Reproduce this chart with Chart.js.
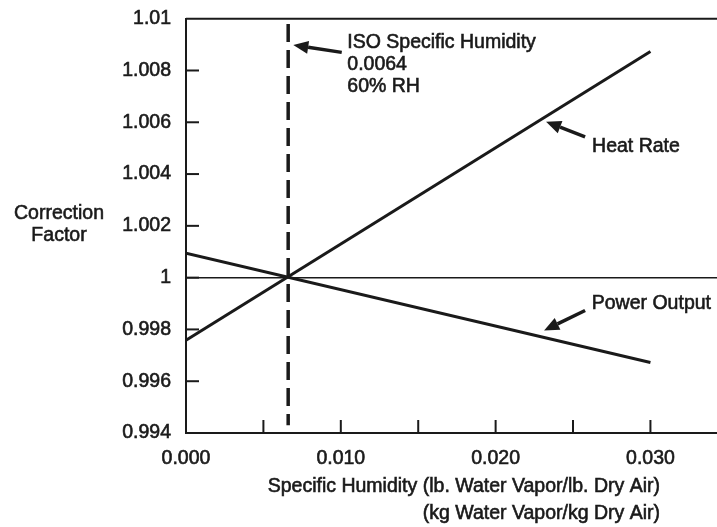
<!DOCTYPE html>
<html>
<head>
<meta charset="utf-8">
<style>
html, body { margin: 0; padding: 0; background: #fff; }
#wrap { width: 717px; height: 527px; position: relative; }
</style>
<script src="https://cdn.jsdelivr.net/npm/chart.js@4.4.1/dist/chart.umd.min.js"></script>
</head>
<body>
<div id="wrap"><canvas id="chart" width="717" height="527"></canvas></div>
<script>
// data
const humidity = [0.000, 0.030];
const heatRate = [0.99758, 1.00873];
const powerOutput = [1.00094, 0.99672];
const isoHumidity = [0.0066, 0.0066];
const isoSpan = [1.0098, 0.9943];
const baselineX = [0, 0.0343];
const baselineY = [1, 1];

const xTicks = [0, 0.005, 0.010, 0.015, 0.020, 0.025, 0.030];
const xTickLabels = ['0.000', '', '0.010', '', '0.020', '', '0.030'];
const yTicks = [0.994, 0.996, 0.998, 1.000, 1.002, 1.004, 1.006, 1.008, 1.010];
const yTickLabels = ['0.994', '0.996', '0.998', '1', '1.002', '1.004', '1.006', '1.008', '1.01'];

const xTitle = ['Specific Humidity (lb. Water Vapor/lb. Dry Air)', '(kg Water Vapor/kg Dry Air)'];
const yTitle = ['Correction', 'Factor'];

// callouts, anchored in data units
const callouts = [
    { lines: ['ISO Specific Humidity', '0.0064', '60% RH'], text: [0.01042, 1.00906], tail: [0.01006, 1.00870], tip: [0.00693, 1.00898] },
    { lines: ['Heat Rate'], text: [0.02623, 1.00506], tail: [0.02578, 1.00544], tip: [0.02326, 1.00602] },
    { lines: ['Power Output'], text: [0.02621, 0.99900], tail: [0.02578, 0.99873], tip: [0.02313, 0.99796] }
];

const INK = '#1a1a1a';
const FONT = "'Liberation Sans', Arial, sans-serif";
const FS = 19.5;
const STROKE = 0.6;

const pts = (xs, ys) => xs.map((x, i) => ({ x: x, y: ys[i] }));

function boldText(ctx, s, x, y) {
    ctx.fillText(s, x, y);
    ctx.strokeText(s, x, y);
}

const decorPlugin = {
    id: 'decor',
    afterDraw(chart) {
        const { ctx, chartArea: ca, scales: { x, y } } = chart;
        ctx.save();
        ctx.strokeStyle = INK;
        ctx.fillStyle = INK;

        // top frame line
        ctx.lineWidth = 2;
        ctx.beginPath();
        ctx.moveTo(ca.left, ca.top);
        ctx.lineTo(ca.right, ca.top);
        ctx.stroke();

        // inward tick marks
        xTicks.slice(1).forEach(v => {
            const px = x.getPixelForValue(v);
            ctx.beginPath();
            ctx.moveTo(px, ca.bottom);
            ctx.lineTo(px, ca.bottom - 13);
            ctx.stroke();
        });
        yTicks.slice(1, -1).forEach(v => {
            const py = y.getPixelForValue(v);
            ctx.beginPath();
            ctx.moveTo(ca.left, py);
            ctx.lineTo(ca.left + 13, py);
            ctx.stroke();
        });

        // callouts
        ctx.font = FS + 'px ' + FONT;
        ctx.textBaseline = 'middle';
        ctx.textAlign = 'left';
        callouts.forEach(c => {
            const tx = x.getPixelForValue(c.text[0]);
            const ty = y.getPixelForValue(c.text[1]);
            ctx.lineWidth = STROKE;
            c.lines.forEach((l, i) => boldText(ctx, l, tx, ty + i * 21.7));

            const ax = x.getPixelForValue(c.tail[0]), ay = y.getPixelForValue(c.tail[1]);
            const bx = x.getPixelForValue(c.tip[0]), by = y.getPixelForValue(c.tip[1]);
            const ang = Math.atan2(by - ay, bx - ax);
            const headLen = 15, headW = 6.5;
            const hx = bx - headLen * Math.cos(ang), hy = by - headLen * Math.sin(ang);
            ctx.lineWidth = 3.5;
            ctx.beginPath();
            ctx.moveTo(ax, ay);
            ctx.lineTo(hx, hy);
            ctx.stroke();
            ctx.beginPath();
            ctx.moveTo(bx, by);
            ctx.lineTo(hx + headW * Math.sin(ang), hy - headW * Math.cos(ang));
            ctx.lineTo(hx - headW * Math.sin(ang), hy + headW * Math.cos(ang));
            ctx.closePath();
            ctx.fill();
        });

        // axis titles
        ctx.lineWidth = STROKE;
        ctx.textAlign = 'center';
        yTitle.forEach((l, i) => boldText(ctx, l, 59, 214 + i * 22));
        ctx.textAlign = 'right';
        xTitle.forEach((l, i) => boldText(ctx, l, 660, 487 + i * 27));
        ctx.restore();
    }
};

new Chart(document.getElementById('chart'), {
    type: 'scatter',
    data: {
        datasets: [
            { data: pts(baselineX, baselineY), borderColor: INK, borderWidth: 1.5, showLine: true, pointRadius: 0 },
            { label: 'Heat Rate', data: pts(humidity, heatRate), borderColor: INK, borderWidth: 3, showLine: true, pointRadius: 0 },
            { label: 'Power Output', data: pts(humidity, powerOutput), borderColor: INK, borderWidth: 3, showLine: true, pointRadius: 0 },
            { data: pts(isoHumidity, isoSpan), borderColor: INK, borderWidth: 3.5, borderDash: [18, 8], showLine: true, pointRadius: 0 }
        ]
    },
    options: {
        responsive: false,
        animation: false,
        layout: { padding: { top: 16, left: 0, right: 0, bottom: 0 } },
        plugins: { legend: { display: false }, tooltip: { enabled: false } },
        scales: {
            x: {
                type: 'linear',
                min: baselineX[0],
                max: baselineX[1],
                afterBuildTicks: s => { s.ticks = xTicks.map(v => ({ value: v })); },
                afterFit: s => { s.height = 94; },
                grid: { display: false },
                border: { display: true, color: INK, width: 2 },
                ticks: {
                    color: INK,
                    textStrokeColor: INK,
                    textStrokeWidth: STROKE,
                    font: { family: FONT, size: FS },
                    padding: 6,
                    maxRotation: 0,
                    autoSkip: false,
                    callback: (v, i) => xTickLabels[i]
                }
            },
            y: {
                type: 'linear',
                min: yTicks[0],
                max: yTicks[yTicks.length - 1],
                afterBuildTicks: s => { s.ticks = yTicks.map(v => ({ value: v })); },
                afterFit: s => { s.width = 186; },
                grid: { display: false },
                border: { display: true, color: INK, width: 2 },
                ticks: {
                    color: INK,
                    textStrokeColor: INK,
                    textStrokeWidth: STROKE,
                    font: { family: FONT, size: FS },
                    padding: 7,
                    autoSkip: false,
                    callback: (v, i) => yTickLabels[i]
                }
            }
        }
    },
    plugins: [decorPlugin]
});
</script>
</body>
</html>
